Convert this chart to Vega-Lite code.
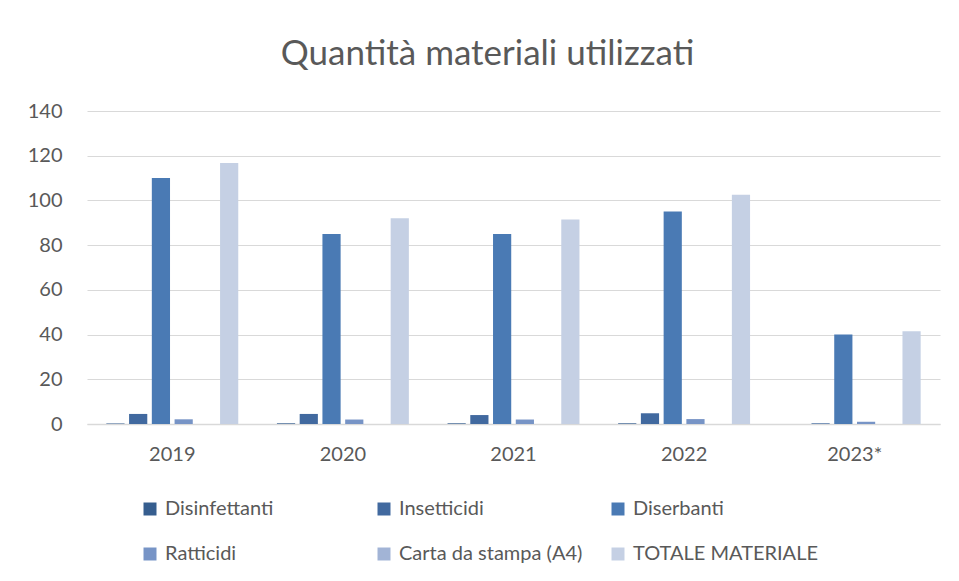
{
  "$schema": "https://vega.github.io/schema/vega-lite/v6.json",
  "width": 853,
  "height": 313,
  "autosize": "none",
  "padding": {"left": 87, "top": 111, "right": 19, "bottom": 157},
  "background": "white",
  "title": {
    "text": "Quantità materiali utilizzati",
    "font": "Lato",
    "fontSize": 35,
    "fontWeight": "normal",
    "color": "#595959",
    "anchor": "middle",
    "dx": -26,
    "offset": 29
  },
  "data": {
    "values": [
      {"anno": "2019", "serie": "Disinfettanti", "valore": 0.2},
      {"anno": "2019", "serie": "Insetticidi", "valore": 4.5},
      {"anno": "2019", "serie": "Diserbanti", "valore": 110},
      {"anno": "2019", "serie": "Ratticidi", "valore": 2.1},
      {"anno": "2019", "serie": "Carta da stampa (A4)", "valore": 0},
      {"anno": "2019", "serie": "TOTALE MATERIALE", "valore": 116.7},
      {"anno": "2020", "serie": "Disinfettanti", "valore": 0.3},
      {"anno": "2020", "serie": "Insetticidi", "valore": 4.5},
      {"anno": "2020", "serie": "Diserbanti", "valore": 85},
      {"anno": "2020", "serie": "Ratticidi", "valore": 2},
      {"anno": "2020", "serie": "Carta da stampa (A4)", "valore": 0},
      {"anno": "2020", "serie": "TOTALE MATERIALE", "valore": 92},
      {"anno": "2021", "serie": "Disinfettanti", "valore": 0.3},
      {"anno": "2021", "serie": "Insetticidi", "valore": 4},
      {"anno": "2021", "serie": "Diserbanti", "valore": 85},
      {"anno": "2021", "serie": "Ratticidi", "valore": 2},
      {"anno": "2021", "serie": "Carta da stampa (A4)", "valore": 0},
      {"anno": "2021", "serie": "TOTALE MATERIALE", "valore": 91.5},
      {"anno": "2022", "serie": "Disinfettanti", "valore": 0.3},
      {"anno": "2022", "serie": "Insetticidi", "valore": 4.8},
      {"anno": "2022", "serie": "Diserbanti", "valore": 95},
      {"anno": "2022", "serie": "Ratticidi", "valore": 2.2},
      {"anno": "2022", "serie": "Carta da stampa (A4)", "valore": 0},
      {"anno": "2022", "serie": "TOTALE MATERIALE", "valore": 102.5},
      {"anno": "2023*", "serie": "Disinfettanti", "valore": 0},
      {"anno": "2023*", "serie": "Insetticidi", "valore": 0.3},
      {"anno": "2023*", "serie": "Diserbanti", "valore": 40},
      {"anno": "2023*", "serie": "Ratticidi", "valore": 1},
      {"anno": "2023*", "serie": "Carta da stampa (A4)", "valore": 0},
      {"anno": "2023*", "serie": "TOTALE MATERIALE", "valore": 41.5}
    ]
  },
  "mark": {"type": "bar"},
  "encoding": {
    "x": {
      "field": "anno",
      "type": "nominal",
      "scale": {"paddingInner": 0.2, "paddingOuter": 0.1},
      "axis": {
        "title": null,
        "labelAngle": 0,
        "labelFont": "Lato",
        "labelFontSize": 20,
        "labelColor": "#595959",
        "labelPadding": 20,
        "ticks": false,
        "domainColor": "#d9d9d9",
        "domainWidth": 1.5,
        "grid": false
      }
    },
    "xOffset": {
      "field": "serie",
      "type": "nominal",
      "sort": ["Disinfettanti", "Insetticidi", "Diserbanti", "Ratticidi", "Carta da stampa (A4)", "TOTALE MATERIALE"],
      "scale": {"paddingInner": 0.2, "paddingOuter": 0.1}
    },
    "y": {
      "field": "valore",
      "type": "quantitative",
      "scale": {"domain": [0, 140], "nice": false},
      "axis": {
        "title": null,
        "values": [0, 20, 40, 60, 80, 100, 120, 140],
        "labelFont": "Lato",
        "labelFontSize": 20,
        "labelColor": "#595959",
        "labelPadding": 25,
        "ticks": false,
        "domain": false,
        "gridColor": "#d9d9d9",
        "gridWidth": 1
      }
    },
    "color": {
      "field": "serie",
      "type": "nominal",
      "sort": ["Disinfettanti", "Insetticidi", "Diserbanti", "Ratticidi", "Carta da stampa (A4)", "TOTALE MATERIALE"],
      "scale": {
        "domain": ["Disinfettanti", "Insetticidi", "Diserbanti", "Ratticidi", "Carta da stampa (A4)", "TOTALE MATERIALE"],
        "range": ["#365e8f", "#41699f", "#4a7ab4", "#7794c6", "#a2b4d6", "#c5d0e4"]
      },
      "legend": {
        "title": null,
        "orient": "none",
        "legendX": 53,
        "legendY": 388,
        "direction": "horizontal",
        "columns": 3,
        "gridAlign": "all",
        "columnPadding": 24,
        "rowPadding": 25,
        "padding": 0,
        "symbolType": "square",
        "symbolSize": 169,
        "symbolStrokeWidth": 0,
        "labelFont": "Lato",
        "labelFontSize": 20,
        "labelColor": "#595959",
        "labelOffset": 5,
        "labelLimit": 300
      }
    }
  },
  "config": {
    "view": {"stroke": null}
  }
}
